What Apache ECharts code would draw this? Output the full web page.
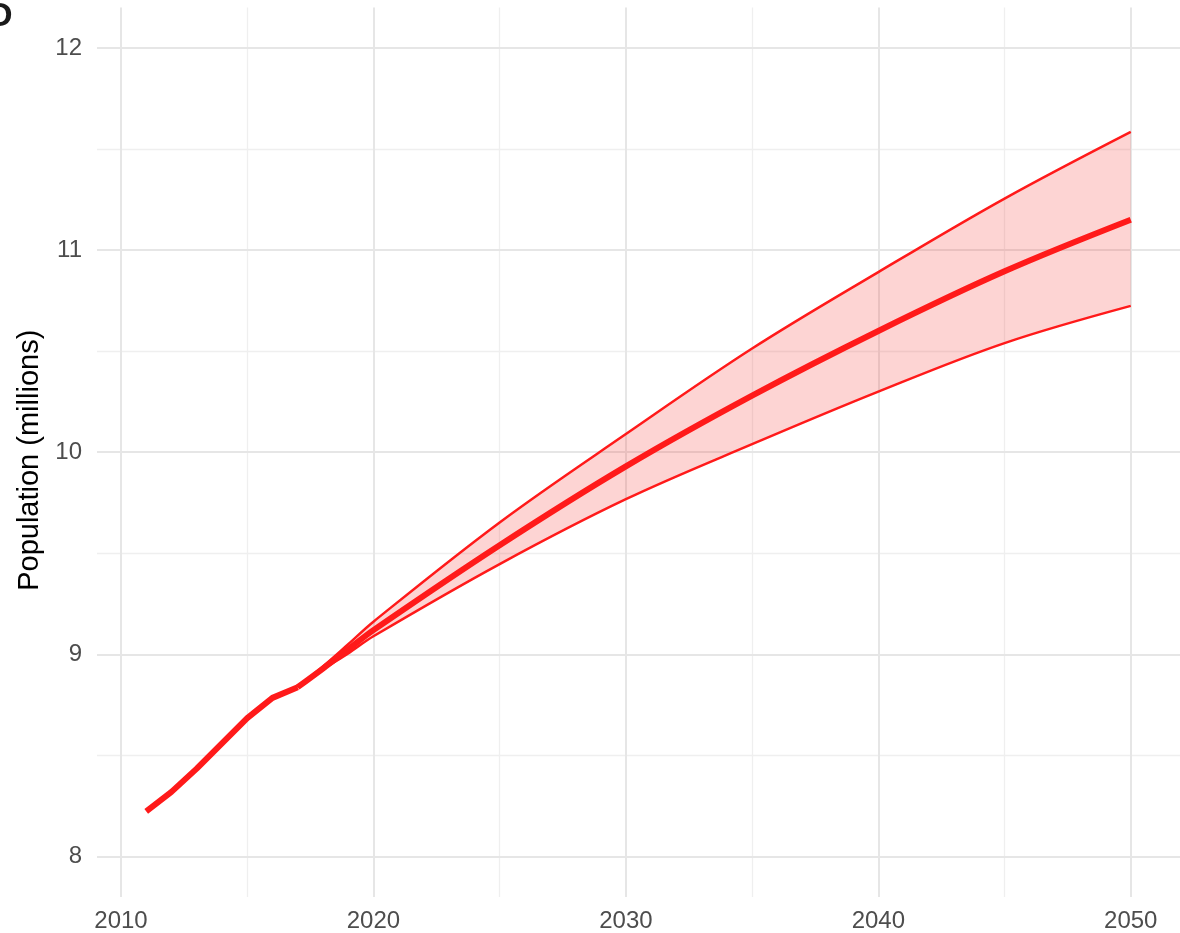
<!DOCTYPE html>
<html>
<head>
<meta charset="utf-8">
<script src="https://cdn.jsdelivr.net/npm/echarts@6/dist/echarts.min.js"></script>
<style>
html,body{margin:0;padding:0;background:#fff;}
#c{width:1180px;height:933px;}
</style>
</head>
<body>
<div id="c"></div>
<script>
// ---- data ----
const histYears = [2011, 2012, 2013, 2014, 2015, 2016, 2017];
const histPop   = [8.224, 8.32, 8.435, 8.56, 8.685, 8.785, 8.838];
const projYears = [2017, 2018, 2019, 2020, 2025, 2030, 2035, 2040, 2045, 2050];
const projMean  = [8.838, 8.93, 9.025, 9.12, 9.54, 9.93, 10.28, 10.60, 10.895, 11.15];
const projLow   = [8.838, 8.925, 9.005, 9.09, 9.447, 9.768, 10.04, 10.30, 10.54, 10.724];
const projHigh  = [8.838, 8.94, 9.05, 9.162, 9.653, 10.09, 10.513, 10.891, 11.255, 11.585];
const xMajor = [2010, 2020, 2030, 2040, 2050];
const xMinor = [2015, 2025, 2035, 2045];
const yMajor = [8, 9, 10, 11, 12];
const yMinor = [8.5, 9.5, 10.5, 11.5];
const yTitle = 'Population (millions)';

const RED = '#ff1a1a';
const FONT = "'Liberation Sans', Arial, Helvetica, sans-serif";
const SMOOTH = 0.35;

const pairs = (xs, ys) => xs.map((x, i) => [x, ys[i]]);
// for the stacked band, value first (stacked dimension), year second
const bandLow = projYears.map((x, i) => [projLow[i], x]);
const bandWidth = projYears.map((x, i) => [projHigh[i] - projLow[i], x]);

const majorStyle = {color: '#e6e6e6', width: 2, type: 'solid'};
const minorStyle = {color: '#efefef', width: 1.3, type: 'solid'};
const gridLines = [].concat(
  xMinor.map(v => ({xAxis: v, lineStyle: minorStyle})),
  yMinor.map(v => ({yAxis: v, lineStyle: minorStyle})),
  xMajor.map(v => ({xAxis: v, lineStyle: majorStyle})),
  yMajor.map(v => ({yAxis: v, lineStyle: majorStyle}))
);

const chart = echarts.init(document.getElementById('c'), null, {renderer: 'canvas'});
chart.setOption({
  animation: false,
  backgroundColor: '#ffffff',
  textStyle: {fontFamily: FONT},
  grid: {left: 97, right: 0, top: 7.5, bottom: 35.5, containLabel: false},
  xAxis: {
    type: 'value', min: 2009.05, max: 2051.95,
    axisLine: {show: false}, axisTick: {show: false},
    splitLine: {show: false},
    axisLabel: {customValues: xMajor, formatter: v => String(Math.round(v)),
      color: '#4d4d4d', fontSize: 24, margin: 12, fontFamily: FONT}
  },
  yAxis: {
    type: 'value', min: 7.8, max: 12.2,
    name: yTitle, nameLocation: 'middle', nameGap: 50, nameRotate: 90,
    nameTextStyle: {color: '#000', fontSize: 29, fontFamily: FONT, padding: [0, 16, 0, 0]},
    axisLine: {show: false}, axisTick: {show: false},
    splitLine: {show: false},
    axisLabel: {customValues: yMajor, formatter: v => String(v),
      color: '#4d4d4d', fontSize: 24, margin: 15, fontFamily: FONT}
  },
  graphic: [{
    type: 'text', left: -12, top: 0,
    style: {text: 'D', fontSize: 34, fontWeight: 'bold', fill: '#1a1a1a', fontFamily: FONT}
  }],
  series: [
    {
      type: 'line', name: 'grid', data: [[2010, 8]], symbol: 'none', z: 0,
      lineStyle: {opacity: 0}, silent: true,
      markLine: {silent: true, symbol: 'none', z: 0, label: {show: false}, animation: false, data: gridLines}
    },
    {
      type: 'line', name: 'lowBase', stack: 'band', data: bandLow, encode: {x: 1, y: 0},
      symbol: 'none', smooth: SMOOTH, lineStyle: {opacity: 0}, z: 1, silent: true
    },
    {
      type: 'line', name: 'bandWidth', stack: 'band', data: bandWidth, encode: {x: 1, y: 0},
      symbol: 'none', smooth: SMOOTH, lineStyle: {opacity: 0},
      areaStyle: {color: 'rgba(245,40,35,0.2)', opacity: 1}, z: 1, silent: true
    },
    {
      type: 'line', name: 'upper', data: pairs(projYears, projHigh),
      symbol: 'none', smooth: SMOOTH, lineStyle: {color: RED, width: 2.5}, z: 3
    },
    {
      type: 'line', name: 'lower', data: pairs(projYears, projLow),
      symbol: 'none', smooth: SMOOTH, lineStyle: {color: RED, width: 2.5}, z: 3
    },
    {
      type: 'line', name: 'mean', data: pairs(projYears, projMean),
      symbol: 'none', smooth: SMOOTH, lineStyle: {color: RED, width: 6}, z: 4
    },
    {
      type: 'line', name: 'history', data: pairs(histYears, histPop),
      symbol: 'none', lineStyle: {color: RED, width: 6, join: 'round', cap: 'butt'}, z: 4
    }
  ]
});
</script>
</body>
</html>
